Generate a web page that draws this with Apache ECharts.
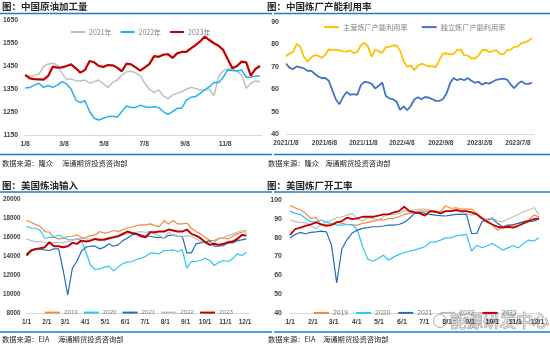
<!DOCTYPE html>
<html><head><meta charset="utf-8">
<script src="https://cdn.jsdelivr.net/npm/echarts@6/dist/echarts.min.js"></script>
<style>html,body{margin:0;padding:0;background:#fff}#c{width:550px;height:345px}</style>
</head><body><div id="c"></div>
<script>
// ---------- Panel 1: 中国原油加工量 (weekly from 1/8) ----------
const p1Start = '2023/1/8';
const p1Ticks = ['1/8','3/8','5/8','7/8','9/8','11/8'];
const p1Names = ['2021年','2022年','2023年'];
const p1Y2021 = [1407,1407,1408,1415,1447,1459,1462,1454,1418,1392,1394,1386,1385,1389,1375,1382,1389,1372,1357,1379,1389,1411,1425,1427,1420,1407,1375,1349,1334,1346,1320,1308,1324,1331,1338,1349,1357,1352,1346,1346,1349,1320,1404,1430,1437,1437,1428,1411,1353,1375,1385,1382];
const p1Y2022 = [1354,1356,1367,1375,1357,1365,1357,1367,1382,1372,1349,1302,1291,1299,1252,1223,1215,1223,1230,1232,1227,1252,1276,1270,1270,1279,1273,1270,1273,1269,1252,1240,1252,1266,1266,1302,1314,1317,1331,1346,1360,1378,1378,1401,1433,1430,1428,1433,1401,1401,1407,1407];
const p1Y2023 = [1411,1396,1393,1392,1391,1407,1447,1443,1444,1450,1457,1440,1421,1433,1472,1466,1450,1446,1454,1453,1443,1427,1460,1457,1444,1430,1444,1459,1493,1490,1499,1502,1485,1505,1511,1511,1527,1541,1557,1578,1563,1549,1538,1520,1479,1440,1450,1469,1466,1408,1437,1450];

// ---------- Panel 2: 中国炼厂产能利用率 (biweekly readings from 2021/1/8) ----------
const p2Start = '2021/1/8';
const p2Ticks = ['2021/1/8','2021/6/8','2021/11/8','2022/4/8','2022/9/8','2023/2/8','2023/7/8'];
const p2Names = ['主营炼厂产能利用率','独立炼厂产能利用率'];
const p2Main = [74.7,75.9,76.6,80.2,79.0,74.5,72.4,74.0,75.2,74.9,74.0,75.2,77.8,77.4,77.7,77.3,76.9,76.8,77.3,76.1,76.6,79.6,80.7,79.0,74.5,77.6,77.0,76.2,78.9,78.9,79.5,79.5,77.3,72.5,70.0,70.5,68.5,70.5,71.4,70.8,70.2,70.3,69.8,72.9,75.9,76.0,75.6,75.7,77.5,77.7,75.2,75.0,73.8,73.7,75.0,77.4,77.6,76.5,77.0,77.4,75.8,75.5,77.4,77.6,78.9,79.0,80.6,80.9,81.6,82.8];
const p2Indep = [71.5,69.5,69.0,70.2,69.7,69.3,68.2,68.3,67.0,65.7,65.0,65.0,63.8,59.5,55.4,53.3,56.5,58.8,57.5,57.8,57.5,61.8,63.3,63.0,62.5,60.3,61.5,63.0,57.0,55.9,55.5,54.5,50.8,52.3,50.6,52.5,55.4,56.4,55.5,56.5,56.3,55.6,54.8,54.8,55.5,58.0,62.5,65.0,64.0,64.6,64.0,65.0,63.8,62.9,63.3,62.0,62.8,62.5,63.3,64.2,64.5,64.7,64.3,62.2,60.5,62.3,63.5,62.5,62.4,62.8];

// ---------- Panels 3 & 4: weekly from 1/1 ----------
const usStart = '2023/1/1';
const usTicks = ['1/1','2/1','3/1','4/1','5/1','6/1','7/1','8/1','9/1','10/1','11/1','12/1'];
const usNames = ['2019','2020','2021','2022','2023'];
const p3Y2019 = [17726,17550,17300,17100,16570,16500,15970,15800,15870,16050,16080,16220,15940,15970,16150,16220,16570,16400,16500,16680,16570,16780,16920,17030,17200,17270,17270,17380,17200,17100,17730,17380,17730,17380,17380,17450,16920,16570,16330,15970,15620,15620,15870,15900,15800,16080,16330,16500,16700];
const p3Y2020 = [17130,16920,16920,16680,15870,15970,15970,16220,15970,15730,15700,15800,15620,14400,13000,12580,12650,12830,12930,12440,12830,13180,13350,13420,13630,13770,13980,14300,14300,14230,14580,14580,14650,14470,14680,12720,13420,13420,13530,13770,13530,13000,13350,13530,13420,13700,14230,14050,14400];
const p3Y2021 = [14230,14580,14680,14750,14650,14580,14750,14750,12500,9900,12700,13450,14500,14930,15030,15030,14750,14930,15280,15030,15170,15620,15870,16220,16330,16220,16080,16080,15970,15970,15870,16150,16220,16080,16080,14330,14330,15280,15380,15450,15620,15030,15030,15100,15380,15380,15620,15700,15800];
const p3Y2022 = [15800,15620,15520,15520,15450,15380,15450,15380,15380,15520,15620,15800,15870,15800,15800,15730,15620,15620,15800,15970,16150,16220,16330,16430,16500,16570,16500,16570,16330,16150,15870,16500,16150,16080,15970,16150,16080,15800,15520,15450,15380,15450,15800,15970,16150,16330,16500,16680,16430];
const p3Y2023 = [14050,14580,14750,14820,14930,15450,15030,15030,14930,15030,15380,15280,15620,15520,15620,15800,15700,15730,15870,15970,16080,16330,16570,16430,16330,16080,15970,16500,16500,16570,16570,16780,16680,16570,16570,16780,16330,16150,15870,15450,15170,15280,15170,15280,15450,15520,15800,16220,16150];
const p4Y2019 = [97.0,95.9,94.7,92.9,90.2,90.6,87.0,87.0,86.7,88.5,87.6,87.0,86.7,86.7,87.6,88.1,88.8,89.4,89.4,90.2,90.2,91.1,92.4,92.9,93.4,94.1,94.1,93.8,93.4,94.1,96.8,95.6,95.9,95.2,95.2,95.2,92.9,90.6,88.5,86.7,84.0,85.8,87.0,86.3,87.6,88.5,89.4,92.0,91.1];
const p4Y2020 = [94.1,92.9,92.4,90.2,88.5,88.1,89.4,88.1,87.6,86.7,86.7,87.0,87.0,84.0,75.2,68.6,67.5,68.9,70.7,68.0,69.8,71.0,72.1,72.8,73.4,74.3,75.2,77.5,77.8,78.7,79.9,79.9,81.0,81.4,81.7,72.8,76.0,74.6,75.7,76.9,75.2,73.4,74.6,75.7,74.6,76.9,78.7,78.2,79.9];
const p4Y2021 = [79.9,81.7,82.8,82.1,82.8,83.1,83.5,83.1,76.0,56.0,74.0,79.0,82.5,84.0,84.9,85.3,85.8,85.8,86.2,86.7,86.7,87.0,88.1,90.2,92.9,93.4,92.9,92.4,92.0,91.7,91.5,92.0,92.4,92.4,92.4,82.2,82.2,88.5,89.4,90.2,87.6,85.8,86.3,87.0,87.6,88.5,88.8,88.8,89.9];
const p4Y2022 = [89.4,88.5,88.1,87.9,86.3,84.9,86.7,88.5,89.4,90.6,91.1,92.0,92.9,89.9,88.8,90.6,90.2,89.4,91.1,92.4,92.4,92.9,94.1,94.1,94.7,95.2,95.2,94.7,94.1,93.4,94.1,93.8,94.1,93.4,92.9,92.0,92.9,90.6,89.9,90.6,88.8,88.5,89.9,91.1,92.4,93.8,94.7,95.9,92.4];
const p4Y2023 = [81.4,84.6,85.3,86.3,87.0,88.1,87.0,86.3,86.7,88.1,88.8,90.6,89.9,90.2,91.1,91.1,91.1,91.7,92.4,92.4,93.4,94.1,96.4,94.1,93.4,92.9,91.7,94.1,93.8,92.9,94.1,94.1,94.7,94.1,94.1,93.4,92.4,90.2,88.5,87.0,85.8,85.3,85.8,85.3,86.3,87.6,88.8,89.9,90.2];

// ---------- helpers ----------
const DAY = 86400000;
function dayDiff(a, b) { return Math.round((Date.parse(b) - Date.parse(a)) / DAY); }
function tickPos(start, ticks, year) {
  return ticks.map(t => dayDiff(start, year ? year + '/' + t : t));
}
function pairs(vals, step) { return vals.map((v, i) => [i * step, v]); }

const FONT = '"Liberation Sans","Noto Sans CJK SC",sans-serif';
const CJK = '"Noto Sans CJK SC",sans-serif';
const LBL = '#404040';

function xAxis(grid, min, max, ticks, labels, fs, margin) {
  return {
    type: 'value', gridIndex: grid, min, max,
    axisLine: { show: true, lineStyle: { color: '#D9D9D9', width: 1 } },
    axisTick: { show: false }, splitLine: { show: false },
    axisLabel: {
      customValues: ticks, fontSize: fs, color: LBL, fontWeight: 'bold', fontFamily: FONT, margin,
      formatter: v => labels[ticks.indexOf(v)]
    }
  };
}
function yAxis(grid, min, max, interval, fs, margin) {
  return {
    type: 'value', gridIndex: grid, min, max, interval,
    axisLine: { show: false }, axisTick: { show: false }, splitLine: { show: false },
    axisLabel: { fontSize: fs, color: LBL, fontWeight: 'bold', fontFamily: FONT, margin, formatter: v => String(v) }
  };
}
function line(name, grid, data, color, width, z) {
  return {
    type: 'line', name, xAxisIndex: grid, yAxisIndex: grid, data, color,
    showSymbol: false, symbol: 'none', z: z || 2, silent: true,
    lineStyle: { color, width }, animation: false
  };
}
function legend(left, top, data, gap, fs, w, family) {
  return {
    left, top, data, itemGap: gap, itemWidth: w, itemHeight: 2, icon: 'rect', selectedMode: false,
    textStyle: { fontSize: fs, color: '#808080', fontFamily: family, padding: [0, 0, 0, -1] }
  };
}

const p1TickPos = tickPos(p1Start, p1Ticks, '2023');
const p2TickPos = tickPos(p2Start, p2Ticks);
const usTickPos = tickPos(usStart, usTicks, '2023');

const C19 = '#F28A3C', C20 = '#2CC6F5', C21 = '#1F6FC0', C22 = '#BFBFBF', C23 = '#C00000';

const BLUE = '#1C7CC9';
function hline(x1, x2, y) { return { type: 'line', shape: { x1, y1: y, x2, y2: y }, style: { stroke: BLUE, lineWidth: 1.6 }, silent: true }; }
function txt(x, y, text, size, weight, fill) {
  return { type: 'text', x, y, silent: true, style: { text, fontSize: size, fontWeight: weight, fontFamily: CJK, fill, verticalAlign: 'middle' } };
}

const option = {
  animation: false,
  backgroundColor: '#fff',
  grid: [
    { left: 24, top: 20, width: 238, height: 115 },
    { left: 286, top: 22, width: 248, height: 112 },
    { left: 26, top: 199, width: 223, height: 114 },
    { left: 290, top: 200, width: 252, height: 113 }
  ],
  xAxis: [
    xAxis(0, 0, 360, p1TickPos, p1Ticks, 6.8, 6),
    xAxis(1, 0, 974, p2TickPos, p2Ticks, 6.5, 6),
    xAxis(2, 0, 340, usTickPos, usTicks, 6.5, 6),
    xAxis(3, 0, 340, usTickPos, usTicks, 7, 6)
  ],
  yAxis: [
    yAxis(0, 1150, 1650, 100, 6.8, 7),
    yAxis(1, 40, 90, 10, 7, 7),
    yAxis(2, 8000, 20000, 2000, 6.3, 6),
    yAxis(3, 40, 100, 10, 7, 8)
  ],
  legend: [
    legend(66, 23.5, p1Names, 9, 7, 14, CJK),
    legend(319, 18.5, p2Names, 14, 7.2, 15, CJK),
    legend(40, 304.5, usNames, 6, 6.2, 15, FONT),
    legend(309, 304.5, usNames, 8, 6.8, 15, FONT)
  ],
  series: [
    line('2021年', 0, pairs(p1Y2021, 7), '#BFBFBF', 1.5),
    line('2022年', 0, pairs(p1Y2022, 7), '#1FB3EE', 1.5),
    line('2023年', 0, pairs(p1Y2023, 7), C23, 2.2, 3),
    line('主营炼厂产能利用率', 1, pairs(p2Main, 14), '#FFC000', 1.8),
    line('独立炼厂产能利用率', 1, pairs(p2Indep, 14), '#4472C4', 1.8),
    line('2019', 2, pairs(p3Y2019, 7), C19, 1.2),
    line('2020', 2, pairs(p3Y2020, 7), C20, 1.2),
    line('2021', 2, pairs(p3Y2021, 7), C21, 1.2),
    line('2022', 2, pairs(p3Y2022, 7), C22, 1.2),
    line('2023', 2, pairs(p3Y2023, 7), C23, 2, 3),
    line('2019', 3, pairs(p4Y2019, 7), C19, 1.2),
    line('2020', 3, pairs(p4Y2020, 7), C20, 1.2),
    line('2021', 3, pairs(p4Y2021, 7), C21, 1.2),
    line('2022', 3, pairs(p4Y2022, 7), C22, 1.2),
    line('2023', 3, pairs(p4Y2023, 7), C23, 1.8, 3)
  ],
  graphic: [
    hline(0, 272, 13.5), hline(274, 550, 13.5),
    hline(0, 272, 154.5), hline(274, 550, 154.5),
    hline(0, 272, 192), hline(274, 550, 192),
    hline(0, 272, 332), hline(274, 550, 332),
    txt(2, 6.5, '图：中国原油加工量', 9.5, 'bold', '#262626'),
    txt(267, 6.5, '图：中国炼厂产能利用率', 9.5, 'bold', '#262626'),
    txt(2, 185, '图：美国炼油输入', 9.5, 'bold', '#262626'),
    txt(267, 185, '图：美国炼厂开工率', 9.5, 'bold', '#262626'),
    txt(2, 163, '数据来源：隆众', 7.3, 'normal', '#262626'),
    txt(62, 163, '海通期货投资咨询部', 7.3, 'normal', '#262626'),
    txt(268, 163, '数据来源：隆众', 7.3, 'normal', '#262626'),
    txt(325, 163, '海通期货投资咨询部', 7.3, 'normal', '#262626'),
    txt(2, 339, '数据来源：EIA', 7.3, 'normal', '#262626'),
    txt(58, 339, '海通期货投资咨询部', 7.3, 'normal', '#262626'),
    txt(268, 339, '数据来源：EIA', 7.3, 'normal', '#262626'),
    txt(323, 339, '海通期货投资咨询部', 7.3, 'normal', '#262626'),
    { type: 'circle', shape: { cx: 440, cy: 321, r: 6.5 }, style: { fill: 'none', stroke: 'rgba(120,120,120,0.6)', lineWidth: 1 }, silent: true },
    { type: 'text', x: 450, y: 321, silent: true, style: { text: '能源研发中心', fontSize: 16.5, fontFamily: CJK, fill: 'rgba(255,255,255,0.55)', stroke: 'rgba(110,110,110,0.75)', lineWidth: 0.9, verticalAlign: 'middle' } }
  ]
};
echarts.init(document.getElementById('c'), null, { renderer: 'canvas' }).setOption(option);
</script>
</body></html>
